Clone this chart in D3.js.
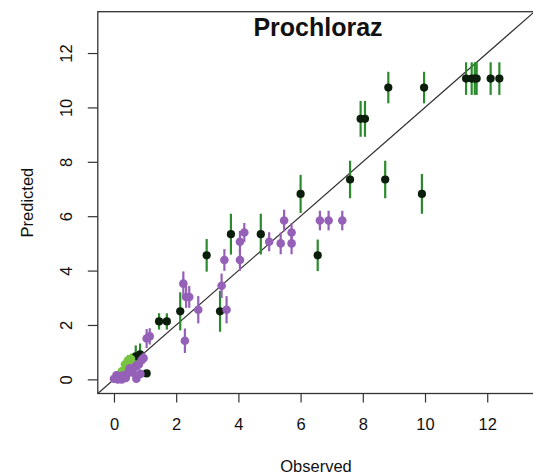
<!DOCTYPE html>
<html>
<head>
<meta charset="utf-8">
<script src="https://cdn.jsdelivr.net/npm/d3@7"></script>
<style>
  html, body { margin: 0; padding: 0; background: #fff; }
  svg { display: block; }
  text { font-family: "Liberation Sans", Arial, Helvetica, sans-serif; fill: #111; }
</style>
</head>
<body>
<svg id="chart" width="533" height="475"></svg>
<script>
// ---- data (observed, predicted, error half-length) ----
const darkObserved  = [0.70, 0.84, 1.05, 1.45, 1.70, 2.13, 2.98, 3.41, 3.76, 4.72, 6.00, 6.55, 7.59, 7.93, 8.07, 8.72, 8.82, 9.90, 9.97, 11.32, 11.50, 11.60, 11.66, 12.11, 12.39];
const darkPredicted = [0.85, 0.92, 0.22, 2.13, 2.13, 2.50, 4.56, 2.50, 5.34, 5.34, 6.82, 4.56, 7.35, 9.58, 9.58, 7.35, 10.73, 6.82, 10.73, 11.06, 11.06, 11.06, 11.06, 11.06, 11.06];
const darkError     = [0.40, 0.40, 0.10, 0.30, 0.30, 0.70, 0.60, 0.75, 0.75, 0.75, 0.70, 0.58, 0.69, 0.66, 0.66, 0.69, 0.58, 0.73, 0.58, 0.60, 0.60, 0.60, 0.60, 0.60, 0.60];

const lightObserved  = [0.25, 0.35, 0.45, 0.55, 0.60];
const lightPredicted = [0.30, 0.55, 0.70, 0.75, 0.58];
const lightError     = [0.15, 0.20, 0.20, 0.20, 0.20];

const purpleObserved  = [0.00, 0.08, 0.12, 0.20, 0.25, 0.30, 0.38, 0.42, 0.50, 0.60, 0.68, 0.72, 0.80, 0.85, 0.89, 0.95, 1.05, 1.15, 2.23, 2.32, 2.42, 2.28, 2.71, 3.46, 3.55, 3.62, 4.05, 4.05, 4.19, 4.99, 5.36, 5.47, 5.71, 5.71, 6.62, 6.90, 7.34];
const purplePredicted = [0.02, 0.15, 0.00, 0.12, 0.00, 0.15, 0.05, 0.20, 0.40, 0.25, 0.46, 0.02, 0.55, 0.20, 0.71, 0.78, 1.50, 1.58, 3.52, 3.03, 3.03, 1.42, 2.56, 3.44, 4.39, 2.56, 4.39, 5.06, 5.40, 5.06, 5.00, 5.84, 5.40, 5.00, 5.84, 5.84, 5.84];
const purpleError     = [0.10, 0.10, 0.10, 0.10, 0.10, 0.10, 0.10, 0.10, 0.15, 0.15, 0.20, 0.10, 0.20, 0.15, 0.20, 0.20, 0.35, 0.30, 0.45, 0.40, 0.40, 0.45, 0.50, 0.45, 0.40, 0.50, 0.40, 0.40, 0.35, 0.35, 0.40, 0.40, 0.35, 0.40, 0.36, 0.36, 0.36];

const xTicks = [0, 2, 4, 6, 8, 10, 12];
const yTicks = [0, 2, 4, 6, 8, 10, 12];
const titleText = "Prochloraz";
const xLabel = "Observed";
const yLabel = "Predicted";

// ---- drawing ----
const svg = d3.select("#chart");
const x = d3.scaleLinear().domain([-0.52, 13.52]).range([97.8, 534.5]);
const y = d3.scaleLinear().domain([-0.52, 13.52]).range([393.5, 11.7]);

const toRows = (o, p, e) => o.map((v, i) => ({ o: v, p: p[i], e: e[i] }));
const series = [
  { rows: toRows(darkObserved, darkPredicted, darkError), bar: "#2b8a2b", fill: "#0b1d0b", r: 4.1 },
  { rows: toRows(lightObserved, lightPredicted, lightError), bar: "#6fbf3c", fill: "#78c440", r: 4.2 },
  { rows: toRows(purpleObserved, purplePredicted, purpleError), bar: "#9460b8", fill: "#9460b8", r: 4.3 }
];

// diagonal 1:1 line
svg.append("line")
  .attr("x1", x(-0.52)).attr("y1", y(-0.52))
  .attr("x2", x(13.52)).attr("y2", y(13.52))
  .attr("stroke", "#333").attr("stroke-width", 1.2);

series.forEach(s => {
  const g = svg.append("g");
  g.selectAll("line.err").data(s.rows).join("line")
    .attr("class", "err")
    .attr("x1", d => x(d.o)).attr("x2", d => x(d.o))
    .attr("y1", d => y(d.p - d.e)).attr("y2", d => y(d.p + d.e))
    .attr("stroke", s.bar).attr("stroke-width", 2.2);
  g.selectAll("circle").data(s.rows).join("circle")
    .attr("cx", d => x(d.o)).attr("cy", d => y(d.p))
    .attr("r", s.r).attr("fill", s.fill);
});

// frame
svg.append("rect")
  .attr("x", 97.8).attr("y", 11.7)
  .attr("width", 534.5 - 97.8).attr("height", 393.5 - 11.7)
  .attr("fill", "none").attr("stroke", "#333").attr("stroke-width", 1.3);

// x axis
const xAxis = svg.append("g")
  .attr("transform", "translate(0,393.5)")
  .call(d3.axisBottom(x).tickValues(xTicks).tickSize(9).tickPadding(16).tickFormat(d3.format("d")));
xAxis.select(".domain").remove();
xAxis.selectAll("line").attr("stroke", "#333").attr("stroke-width", 1.2);
xAxis.selectAll("text").attr("font-size", "16.5px").attr("fill", "#111")
  .style("font-family", '"Liberation Sans", Arial, sans-serif');

// y axis
const yAxis = svg.append("g")
  .attr("transform", "translate(97.8,0)")
  .call(d3.axisLeft(y).tickValues(yTicks).tickSize(10).tickFormat(d3.format("d")));
yAxis.select(".domain").remove();
yAxis.selectAll("line").attr("stroke", "#333").attr("stroke-width", 1.2);
yAxis.selectAll("text")
  .attr("transform", "rotate(-90)")
  .attr("x", 0).attr("y", -26).attr("dy", 0)
  .attr("text-anchor", "middle")
  .attr("font-size", "16.5px").attr("fill", "#111")
  .style("font-family", '"Liberation Sans", Arial, sans-serif');

// title & axis labels
svg.append("text")
  .attr("x", 318).attr("y", 36)
  .attr("text-anchor", "middle")
  .attr("font-size", "25px").attr("font-weight", "bold")
  .text(titleText);

svg.append("text")
  .attr("x", 316).attr("y", 471.5)
  .attr("text-anchor", "middle")
  .attr("font-size", "16.5px")
  .text(xLabel);

svg.append("text")
  .attr("transform", "translate(33.3,202.6) rotate(-90)")
  .attr("text-anchor", "middle")
  .attr("font-size", "16.5px")
  .text(yLabel);
</script>
</body>
</html>
